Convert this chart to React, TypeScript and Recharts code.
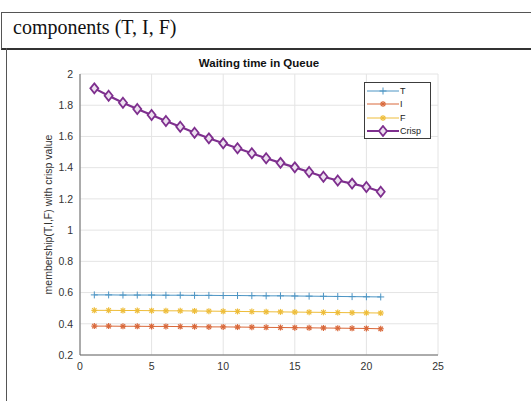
import {
  LineChart,
  Line,
  XAxis,
  YAxis,
  CartesianGrid,
} from "recharts";

const steps = [1, 2, 3, 4, 5, 6, 7, 8, 9, 10, 11, 12, 13, 14, 15, 16, 17, 18, 19, 20, 21];
const tValues = [0.585, 0.585, 0.584, 0.584, 0.584, 0.583, 0.583, 0.582, 0.582, 0.581, 0.581, 0.580, 0.579, 0.579, 0.578, 0.577, 0.576, 0.575, 0.574, 0.573, 0.572];
const iValues = [0.385, 0.385, 0.384, 0.384, 0.383, 0.383, 0.382, 0.381, 0.380, 0.380, 0.379, 0.378, 0.377, 0.376, 0.375, 0.374, 0.373, 0.372, 0.371, 0.370, 0.368];
const fValues = [0.486, 0.486, 0.485, 0.485, 0.484, 0.483, 0.483, 0.482, 0.481, 0.480, 0.479, 0.478, 0.477, 0.476, 0.475, 0.474, 0.473, 0.472, 0.471, 0.470, 0.469];
const crispValues = [1.908, 1.861, 1.816, 1.776, 1.737, 1.699, 1.662, 1.624, 1.588, 1.556, 1.524, 1.492, 1.46, 1.431, 1.402, 1.372, 1.342, 1.318, 1.298, 1.276, 1.246];
const xTicks = [0, 5, 10, 15, 20, 25];
const yTicks = [0.2, 0.4, 0.6, 0.8, 1, 1.2, 1.4, 1.6, 1.8, 2];

const C_T = "#4d95c4";
const C_I = "#d9683a";
const C_F = "#eebd3a";
const C_CRISP = "#7e2f8e";

const data = steps.map((s, i) => ({
  x: s,
  T: tValues[i],
  I: iValues[i],
  F: fValues[i],
  Crisp: crispValues[i],
}));

const font = "Arial, 'Liberation Sans', Helvetica, sans-serif";

function PlusDot(props: any) {
  const { cx, cy, stroke } = props;
  if (cx == null || cy == null) return null;
  return (
    <g stroke={stroke} strokeWidth={1}>
      <line x1={cx - 3.5} y1={cy} x2={cx + 3.5} y2={cy} />
      <line x1={cx} y1={cy - 3.5} x2={cx} y2={cy + 3.5} />
    </g>
  );
}

function StarDot(props: any) {
  const { cx, cy, stroke } = props;
  if (cx == null || cy == null) return null;
  const r = 3;
  const d = 2.2;
  return (
    <g stroke={stroke} strokeWidth={1.2}>
      <line x1={cx - r} y1={cy} x2={cx + r} y2={cy} />
      <line x1={cx} y1={cy - r} x2={cx} y2={cy + r} />
      <line x1={cx - d} y1={cy - d} x2={cx + d} y2={cy + d} />
      <line x1={cx - d} y1={cy + d} x2={cx + d} y2={cy - d} />
    </g>
  );
}

function DiamondDot(props: any) {
  const { cx, cy } = props;
  if (cx == null || cy == null) return null;
  return (
    <path
      d={`M${cx},${cy - 5} L${cx + 4},${cy} L${cx},${cy + 5} L${cx - 4},${cy} Z`}
      fill="#ece0ef"
      stroke={C_CRISP}
      strokeWidth={1.8}
    />
  );
}

const legendRows = [
  { name: "T", color: C_T, width: 1, Dot: PlusDot },
  { name: "I", color: C_I, width: 1, Dot: StarDot },
  { name: "F", color: C_F, width: 1, Dot: StarDot },
  { name: "Crisp", color: C_CRISP, width: 2, Dot: DiamondDot },
];

function LegendBox() {
  return (
    <div
      style={{
        position: "absolute",
        left: 364,
        top: 82,
        width: 67,
        height: 57,
        border: "1px solid #3c3c3c",
        background: "#fff",
        boxSizing: "border-box",
        padding: "1px 0 0 2px",
        fontFamily: font,
        fontSize: 9,
        color: "#222",
      }}
    >
      {legendRows.map((r) => (
        <div key={r.name} style={{ display: "flex", alignItems: "center", height: 13.5 }}>
          <svg width={32} height={12}>
            <line x1={0} y1={6} x2={32} y2={6} stroke={r.color} strokeWidth={r.width} />
            <r.Dot cx={16} cy={6} stroke={r.color} />
          </svg>
          <span style={{ marginLeft: 1 }}>{r.name}</span>
        </div>
      ))}
    </div>
  );
}

export default function App() {
  return (
    <div
      style={{
        position: "fixed",
        left: 0,
        top: 0,
        width: 531,
        height: 401,
        background: "#fff",
        overflow: "hidden",
      }}
    >
      {/* table frame */}
      <div style={{ position: "absolute", left: 1, top: 12, width: 540, height: 35, borderTop: "1px solid #555", borderLeft: "1px solid #555", borderBottom: "2px solid #333" }} />
      <div style={{ position: "absolute", left: 6, top: 48, width: 1, height: 360, background: "#555" }} />
      <div
        style={{
          position: "absolute",
          left: 13,
          top: 16,
          fontFamily: "'Liberation Serif', 'Times New Roman', serif",
          fontSize: 20,
          color: "#111",
          whiteSpace: "nowrap",
        }}
      >
        components (T, I, F)
      </div>
      <div
        style={{
          position: "absolute",
          left: 80,
          width: 358,
          top: 57,
          textAlign: "center",
          fontFamily: font,
          fontWeight: "bold",
          fontSize: 11.5,
          color: "#111",
        }}
      >
        Waiting time in Queue
      </div>
      <div style={{ position: "absolute", left: 0, top: 50 }}>
        <LineChart
          width={531}
          height={351}
          data={data}
          margin={{ top: 24, right: 93, bottom: 16, left: 40 }}
        >
          <CartesianGrid stroke="#e4e4e4" />
          <XAxis
            dataKey="x"
            type="number"
            domain={[0, 25]}
            ticks={xTicks}
            height={30}
            stroke="#666"
            tickSize={0}
            tickMargin={8}
            tick={{ fill: "#333", fontSize: 10.5, fontFamily: font }}
          />
          <XAxis xAxisId="top" orientation="top" type="number" domain={[0, 25]} tick={false} height={0} stroke="#666" />
          <YAxis
            type="number"
            domain={[0.2, 2]}
            ticks={yTicks}
            width={40}
            stroke="#666"
            tickSize={0}
            tickMargin={7}
            tick={{ fill: "#333", fontSize: 10.5, fontFamily: font }}
            label={{
              value: "membership(T,I,F) with crisp value",
              angle: -90,
              position: "insideLeft",
              offset: 8,
              style: { textAnchor: "middle", fill: "#333", fontSize: 10.5, fontFamily: font },
            }}
          />
          <YAxis yAxisId="right" orientation="right" type="number" domain={[0.2, 2]} tick={false} width={0} stroke="#666" />
          <Line
            dataKey="T"
            stroke={C_T}
            strokeWidth={1}
            dot={<PlusDot />}
            activeDot={false}
            isAnimationActive={false}
          />
          <Line
            dataKey="I"
            stroke={C_I}
            strokeWidth={1}
            dot={<StarDot />}
            activeDot={false}
            isAnimationActive={false}
          />
          <Line
            dataKey="F"
            stroke={C_F}
            strokeWidth={1}
            dot={<StarDot />}
            activeDot={false}
            isAnimationActive={false}
          />
          <Line
            dataKey="Crisp"
            stroke={C_CRISP}
            strokeWidth={2.2}
            dot={<DiamondDot />}
            activeDot={false}
            isAnimationActive={false}
          />
        </LineChart>
      </div>
      <LegendBox />
    </div>
  );
}
